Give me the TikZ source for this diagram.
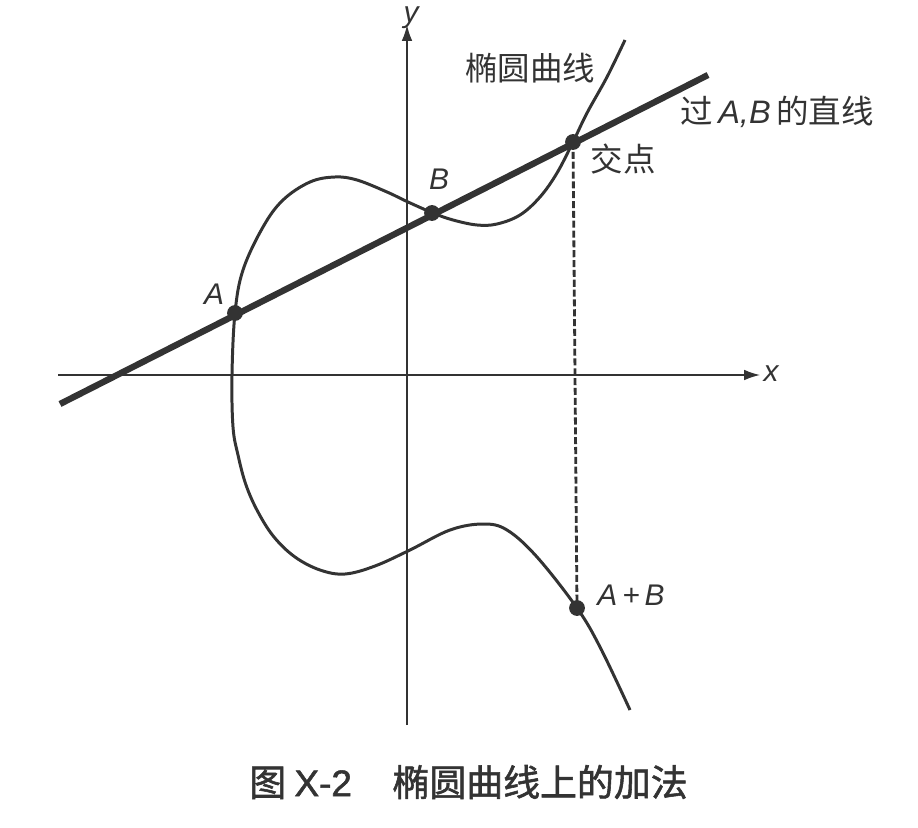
\documentclass[tikz,border=0pt]{standalone}
\usepackage{fontspec}
\setmainfont{Liberation Sans}
\newfontfamily\cjk{Noto Sans CJK SC}
\newfontfamily\capcjk[FakeBold=1.5]{Noto Sans CJK SC}
\newfontfamily\caplatin[FakeBold=1.5]{Liberation Sans}
\usetikzlibrary{arrows.meta}
\definecolor{ink}{HTML}{333333}
\begin{document}
\begin{tikzpicture}[x=0.02cm,y=-0.02cm,
  axis/.style={draw=ink,line width=0.8pt},
  curve/.style={draw=ink,line width=1.7pt},
  abline/.style={draw=ink,line width=3.6pt},
  proj/.style={draw=ink,line width=1.6pt,dash pattern=on 4pt off 1.6pt},
  pt/.style={circle,fill=ink,inner sep=0pt,minimum size=9pt},
  lab/.style={text=ink,font=\fontsize{17}{17}\selectfont\itshape,inner sep=0pt},
  cn/.style={text=ink,font=\fontsize{18.5}{18.5}\selectfont\cjk,inner sep=0pt},
  captext/.style={text=ink,font=\fontsize{21}{21}\selectfont\capcjk,inner sep=0pt}]
\useasboundingbox (0,0) rectangle (918,827);
% axes
\coordinate (xs) at (58,375);
\coordinate (xe) at (760,375);
\coordinate (ys) at (407,725);
\coordinate (ye) at (407,25);
\draw[axis,-{Latex[length=9pt,width=6pt]}] (xs) -- (xe);
\draw[axis,-{Latex[length=9pt,width=6pt]}] (ys) -- (ye);
\node[lab] (xl) at (771,374) {x};
\node[lab,anchor=north] (yl) at (411,6) {y};
% curve
\draw[curve] plot[smooth,tension=0.6] coordinates {
 (625,40) (607,77) (587,113) (573,142) (557,173) (540,197) (520,215)
 (497,224) (477,225) (453,220) (433,213) (408,202) (387,192) (357,180)
 (335,177) (310,182) (283,200) (263,227) (243,270) (235,313) (232,375)
 (233,427) (238,455) (246,485) (258,512) (274,537) (295,557) (320,570)
 (345,574) (375,566) (410,550)
 (450,530) (483,524) (507,530) (537,557) (577,608) (600,647) (630,710)};
% points
\coordinate (L1) at (60,404);
\coordinate (L2) at (708,75);
\coordinate (A) at (235,313);
\coordinate (B) at (432,213);
\coordinate (P) at (573,142);
\coordinate (Q) at (577,608);
\draw[abline] (L1) -- (L2);
\draw[proj] (P) -- (Q);
\node[pt] (dA) at (A) {};
\node[pt] (dB) at (B) {};
\node[pt] (dP) at (P) {};
\node[pt] (dQ) at (Q) {};
% labels
\node[lab] (la) at (214,294) {A};
\node[lab] (lb) at (439,179) {B};
\node[lab] (lq) at (631,595) {A\,+\,B};
\node[cn] (lp) at (623,159) {交点};
\node[cn] (lc) at (530,68) {椭圆曲线};
\node[cn,anchor=west] (ll) at (680,112) {过\,{\rmfamily\itshape A,B}\,的直线};
\node[captext,anchor=west] (caption) at (249,782) {图 {\caplatin X-2}\hspace{1.1em}椭圆曲线上的加法};
\end{tikzpicture}
\end{document}
